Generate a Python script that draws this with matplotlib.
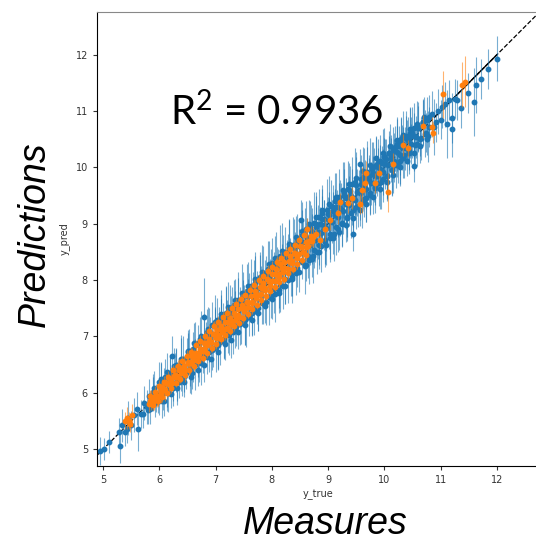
import matplotlib
matplotlib.use("Agg")
import matplotlib.pyplot as plt

plt.rcParams['mathtext.default'] = 'regular'
plt.rcParams['font.family'] = ['Lato', 'DejaVu Sans']

xticks = [5, 6, 7, 8, 9, 10, 11, 12]
yticks = [5, 6, 7, 8, 9, 10, 11, 12]

blue_true = [
    4.95, 5.02, 5.10, 5.30, 5.28, 5.33, 5.38, 5.45, 5.50, 5.43,
    5.62, 5.55, 5.60, 5.67, 5.72, 5.70, 5.78, 5.82, 5.80, 5.88,
    5.92, 5.90, 5.98, 6.02, 6.00, 6.07, 6.10, 6.13, 6.18, 6.15,
    6.22, 6.25, 6.28, 6.32, 6.30, 6.38, 6.42, 6.40, 6.47, 6.50,
    6.55, 6.52, 6.60, 6.63, 6.58, 6.68, 6.72, 6.70, 6.80, 6.78,
    6.85, 6.88, 6.83, 6.93, 6.96, 6.90, 7.00, 7.03, 6.98, 7.08,
    7.10, 7.06, 7.15, 7.18, 7.13, 7.22, 7.25, 7.20, 7.30, 7.32,
    7.28, 7.37, 7.40, 7.35, 7.45, 7.48, 7.43, 7.53, 7.55, 7.50,
    7.60, 7.63, 7.58, 7.68, 7.70, 7.66, 7.75, 7.78, 7.73, 7.83,
    7.85, 7.80, 7.90, 7.93, 7.88, 7.98, 8.00, 7.96, 8.05, 8.08,
    8.03, 8.13, 8.15, 8.11, 8.20, 8.23, 8.18, 8.28, 8.30, 8.26,
    8.35, 8.38, 8.33, 8.43, 8.45, 8.41, 8.51, 8.53, 8.48, 8.58,
    8.60, 8.56, 8.66, 8.68, 8.63, 8.73, 8.75, 8.71, 8.80, 8.83,
    8.78, 8.88, 8.90, 8.86, 8.95, 8.98, 8.93, 9.03, 9.05, 9.01,
    9.10, 9.13, 9.08, 9.18, 9.20, 9.16, 9.25, 9.28, 9.23, 9.33,
    9.35, 9.31, 9.40, 9.43, 9.38, 9.45, 9.48, 9.50, 9.56, 9.55,
    9.60, 9.63, 9.58, 9.68, 9.70, 9.66, 9.75, 9.78, 9.73, 9.83,
    9.85, 9.80, 9.90, 9.93, 9.88, 9.98, 10.00, 9.96, 10.05, 10.08,
    10.03, 10.13, 10.15, 10.11, 10.20, 10.23, 10.18, 10.28, 10.30, 10.26,
    10.35, 10.38, 10.33, 10.43, 10.45, 10.41, 10.52, 10.53, 10.48, 10.58,
    10.60, 10.65, 10.68, 10.72, 10.75, 10.80, 10.78, 10.85, 10.88, 10.92,
    10.95, 11.00, 11.02, 11.08, 11.12, 11.15, 11.20, 11.20, 11.25, 11.30,
    11.36, 11.48, 11.60, 11.63, 11.72, 11.85, 12.00,
]
blue_pred = [
    4.97, 5.00, 5.13, 5.05, 5.30, 5.42, 5.30, 5.55, 5.42, 5.35,
    5.35, 5.60, 5.72, 5.62, 5.82, 5.62, 5.75, 5.95, 5.70, 5.98,
    5.82, 6.08, 5.92, 6.18, 5.85, 6.00, 6.28, 6.05, 6.35, 6.00,
    6.65, 6.15, 6.42, 6.20, 6.50, 6.28, 6.60, 6.25, 6.35, 6.72,
    6.42, 6.75, 6.50, 6.85, 6.35, 6.58, 6.95, 6.55, 7.34, 6.65,
    7.08, 6.72, 6.95, 7.20, 6.78, 7.05, 6.82, 7.30, 7.18, 6.90,
    7.35, 7.22, 6.95, 7.42, 7.30, 7.05, 7.50, 7.35, 7.08, 7.55,
    7.42, 7.18, 7.65, 7.50, 7.25, 7.72, 7.58, 7.30, 7.80, 7.60,
    7.35, 7.90, 7.72, 7.45, 7.95, 7.80, 7.50, 8.05, 7.85, 7.60,
    8.12, 7.95, 7.62, 8.20, 8.00, 7.72, 8.30, 8.08, 7.75, 8.38,
    8.15, 7.82, 8.42, 8.25, 7.90, 8.50, 8.30, 8.00, 8.58, 8.40,
    8.05, 8.62, 8.45, 8.12, 8.70, 8.50, 9.07, 8.80, 8.60, 8.25,
    8.90, 8.68, 8.35, 8.95, 8.75, 8.42, 9.02, 8.85, 8.50, 9.12,
    8.95, 8.60, 9.20, 9.00, 8.68, 9.25, 9.08, 8.75, 9.32, 9.15,
    8.82, 9.40, 9.22, 8.90, 9.48, 9.30, 9.00, 9.55, 9.38, 9.10,
    9.62, 9.45, 9.20, 9.70, 9.50, 8.82, 9.75, 9.30, 10.07, 9.60,
    9.38, 9.85, 9.70, 9.45, 9.92, 9.78, 9.55, 9.98, 9.85, 9.65,
    10.05, 9.90, 9.72, 10.12, 10.00, 9.80, 10.20, 10.08, 9.85, 10.25,
    10.15, 9.95, 10.32, 10.22, 10.05, 10.42, 10.30, 10.12, 10.50, 10.38,
    10.22, 10.55, 10.42, 10.30, 10.62, 10.50, 10.02, 10.70, 10.55, 10.42,
    10.72, 10.52, 10.80, 10.60, 10.85, 10.72, 10.55, 10.95, 10.72, 10.80,
    11.00, 10.85, 11.08, 11.12, 10.77, 11.20, 10.88, 10.68, 11.22, 11.20,
    11.05, 11.32, 11.16, 11.46, 11.57, 11.75, 11.93,
]
blue_err = [
    0.25, 0.20, 0.20, 0.30, 0.25, 0.30, 0.25, 0.30, 0.25, 0.25,
    0.38, 0.30, 0.30, 0.25, 0.30, 0.25, 0.30, 0.30, 0.25, 0.30,
    0.25, 0.30, 0.28, 0.35, 0.25, 0.30, 0.32, 0.30, 0.28, 0.35,
    0.35, 0.30, 0.28, 0.35, 0.30, 0.25, 0.40, 0.30, 0.28, 0.35,
    0.30, 0.38, 0.30, 0.40, 0.28, 0.30, 0.40, 0.35, 0.70, 0.30,
    0.40, 0.35, 0.30, 0.42, 0.32, 0.30, 0.45, 0.38, 0.30, 0.40,
    0.38, 0.30, 0.35, 0.45, 0.30, 0.35, 0.42, 0.30, 0.40, 0.45,
    0.30, 0.35, 0.50, 0.30, 0.38, 0.42, 0.30, 0.45, 0.48, 0.32,
    0.35, 0.48, 0.30, 0.42, 0.55, 0.35, 0.40, 0.45, 0.32, 0.38,
    0.48, 0.30, 0.42, 0.50, 0.35, 0.40, 0.45, 0.30, 0.50, 0.48,
    0.35, 0.40, 0.55, 0.30, 0.42, 0.45, 0.35, 0.40, 0.50, 0.32,
    0.45, 0.50, 0.30, 0.38, 0.48, 0.35, 0.35, 0.45, 0.30, 0.50,
    0.50, 0.35, 0.42, 0.45, 0.30, 0.48, 0.55, 0.32, 0.40, 0.50,
    0.35, 0.45, 0.48, 0.30, 0.40, 0.55, 0.35, 0.42, 0.45, 0.30,
    0.48, 0.50, 0.35, 0.40, 0.50, 0.30, 0.42, 0.55, 0.35, 0.40,
    0.50, 0.30, 0.45, 0.48, 0.35, 0.30, 0.60, 0.40, 0.25, 0.35,
    0.45, 0.50, 0.30, 0.42, 0.55, 0.35, 0.40, 0.48, 0.32, 0.45,
    0.50, 0.30, 0.40, 0.45, 0.35, 0.42, 0.50, 0.30, 0.45, 0.40,
    0.35, 0.45, 0.40, 0.30, 0.42, 0.48, 0.32, 0.45, 0.40, 0.35,
    0.40, 0.45, 0.30, 0.42, 0.45, 0.35, 0.28, 0.45, 0.35, 0.40,
    0.45, 0.38, 0.40, 0.42, 0.40, 0.35, 0.45, 0.40, 0.50, 0.35,
    0.40, 0.35, 0.38, 0.40, 0.60, 0.35, 0.45, 0.50, 0.35, 0.35,
    0.35, 0.35, 0.60, 0.50, 0.35, 0.35, 0.40,
]

# second pass along the band, the cloud is much denser than one pass
edge_true = [
    5.84, 5.89, 5.94, 5.99, 6.04, 6.09, 6.14, 6.19, 6.24, 6.29,
    6.34, 6.39, 6.44, 6.49, 6.54, 6.59, 6.64, 6.69, 6.74, 6.79,
    6.84, 6.89, 6.94, 6.99, 7.04, 7.09, 7.14, 7.19, 7.24, 7.29,
    7.34, 7.39, 7.44, 7.49, 7.54, 7.59, 7.64, 7.69, 7.74, 7.79,
    7.84, 7.89, 7.94, 7.99, 8.04, 8.09, 8.14, 8.19, 8.24, 8.29,
    8.34, 8.39, 8.44, 8.49, 8.54, 8.59, 8.64, 8.69, 8.74, 8.79,
    8.84, 8.89, 8.94, 8.99, 9.04, 9.09, 9.14, 9.19, 9.24, 9.29,
    9.34, 9.39, 9.44, 9.49, 9.54, 9.59, 9.64, 9.69, 9.74, 9.79,
    9.84, 9.89, 9.94, 9.99, 10.04, 10.09, 10.14, 10.19, 10.24, 10.29,
    10.34, 10.39, 10.44, 10.49, 10.54, 10.59, 10.64, 10.69, 10.74, 10.79,
]
edge_pred = [
    5.72, 6.02, 5.90, 6.20, 5.86, 6.16, 6.02, 6.34, 6.08, 6.40,
    6.20, 6.55, 6.30, 6.62, 6.40, 6.78, 6.50, 6.88, 6.52, 6.98,
    6.64, 7.02, 6.76, 7.20, 6.85, 7.28, 6.92, 7.40, 7.02, 7.46,
    7.12, 7.58, 7.22, 7.70, 7.32, 7.78, 7.42, 7.88, 7.52, 8.00,
    7.60, 8.10, 7.70, 8.20, 7.84, 8.28, 7.92, 8.42, 8.02, 8.50,
    8.12, 8.58, 8.22, 8.68, 8.32, 8.80, 8.42, 8.88, 8.54, 9.00,
    8.62, 9.08, 8.72, 9.18, 8.82, 9.30, 8.94, 9.40, 9.02, 9.50,
    9.12, 9.58, 9.24, 9.68, 9.32, 9.80, 9.44, 9.88, 9.52, 10.00,
    9.64, 10.08, 9.74, 10.18, 9.84, 10.26, 9.96, 10.36, 10.04, 10.46,
    10.16, 10.52, 10.26, 10.62, 10.40, 10.70, 10.50, 10.80, 10.62, 10.90,
]
edge_err = [
    0.28, 0.32, 0.25, 0.35, 0.30, 0.28, 0.35, 0.30, 0.32, 0.38,
    0.30, 0.42, 0.28, 0.35, 0.40, 0.30, 0.45, 0.32, 0.38, 0.42,
    0.30, 0.48, 0.35, 0.32, 0.45, 0.38, 0.30, 0.50, 0.35, 0.42,
    0.32, 0.45, 0.38, 0.30, 0.50, 0.35, 0.42, 0.48, 0.30, 0.45,
    0.38, 0.32, 0.50, 0.35, 0.42, 0.30, 0.48, 0.38, 0.45, 0.32,
    0.40, 0.50, 0.35, 0.42, 0.30, 0.48, 0.38, 0.45, 0.32, 0.50,
    0.35, 0.42, 0.48, 0.30, 0.45, 0.38, 0.50, 0.32, 0.42, 0.48,
    0.35, 0.45, 0.30, 0.50, 0.38, 0.42, 0.32, 0.48, 0.35, 0.45,
    0.30, 0.42, 0.48, 0.35, 0.40, 0.30, 0.45, 0.38, 0.32, 0.42,
    0.35, 0.40, 0.30, 0.45, 0.35, 0.40, 0.30, 0.42, 0.35, 0.38,
]

# outer rim of the blue cloud
outer_true = [
    6.02, 6.08, 6.14, 6.20, 6.26, 6.32, 6.38, 6.44, 6.50, 6.56,
    6.62, 6.68, 6.74, 6.80, 6.86, 6.92, 6.98, 7.04, 7.10, 7.16,
    7.22, 7.28, 7.34, 7.40, 7.46, 7.52, 7.58, 7.64, 7.70, 7.76,
    7.82, 7.88, 7.94, 8.00, 8.06, 8.12, 8.18, 8.24, 8.30, 8.36,
    8.42, 8.48, 8.54, 8.60, 8.66, 8.72, 8.78, 8.84, 8.90, 8.96,
    9.02, 9.08, 9.14, 9.20, 9.26, 9.32, 9.38, 9.44, 9.50, 9.56,
    9.62, 9.68, 9.74, 9.80, 9.86, 9.92, 9.98, 10.04, 10.10, 10.16,
    10.22, 10.28, 10.34, 10.40, 10.46, 10.52, 10.58, 10.64, 10.70, 10.76,
]
outer_pred = [
    6.24, 5.86, 6.36, 5.98, 6.48, 6.08, 6.60, 6.20, 6.74, 6.28,
    6.88, 6.40, 7.00, 6.50, 7.14, 6.60, 7.26, 6.72, 7.40, 6.86,
    7.52, 6.94, 7.64, 7.08, 7.78, 7.20, 7.90, 7.30, 8.02, 7.42,
    8.14, 7.54, 8.28, 7.66, 8.40, 7.78, 8.52, 7.90, 8.64, 8.02,
    8.76, 8.14, 8.88, 8.26, 9.00, 8.38, 9.12, 8.50, 9.24, 8.62,
    9.36, 8.74, 9.48, 8.86, 9.60, 8.98, 9.70, 9.10, 9.82, 9.24,
    9.94, 9.36, 10.04, 9.48, 10.16, 9.62, 10.26, 9.74, 10.38, 9.86,
    10.48, 10.00, 10.58, 10.12, 10.68, 10.26, 10.78, 10.38, 10.90, 10.50,
]
outer_err = [
    0.30, 0.28, 0.35, 0.25, 0.32, 0.30, 0.42, 0.28, 0.38, 0.30,
    0.35, 0.28, 0.45, 0.30, 0.38, 0.32, 0.48, 0.30, 0.42, 0.28,
    0.45, 0.32, 0.38, 0.30, 0.50, 0.35, 0.42, 0.28, 0.40, 0.32,
    0.48, 0.30, 0.42, 0.35, 0.38, 0.28, 0.50, 0.32, 0.42, 0.30,
    0.38, 0.35, 0.50, 0.28, 0.42, 0.32, 0.45, 0.30, 0.38, 0.35,
    0.48, 0.28, 0.42, 0.32, 0.50, 0.30, 0.38, 0.35, 0.45, 0.28,
    0.42, 0.32, 0.48, 0.30, 0.38, 0.35, 0.42, 0.28, 0.40, 0.32,
    0.38, 0.30, 0.42, 0.28, 0.38, 0.32, 0.40, 0.30, 0.35, 0.28,
]

# middle of the band above 8.6, the orange thins out there
mid_true = [
    8.62, 8.67, 8.72, 8.77, 8.82, 8.87, 8.92, 8.97, 9.02, 9.07,
    9.12, 9.17, 9.22, 9.27, 9.32, 9.37, 9.42, 9.47, 9.52, 9.57,
    9.62, 9.67, 9.72, 9.77, 9.82, 9.87, 9.92, 9.97, 10.02, 10.07,
    10.12, 10.17, 10.22, 10.27, 10.32, 10.37, 10.42, 10.47, 10.52, 10.57,
]
mid_pred = [
    8.66, 8.62, 8.78, 8.72, 8.86, 8.84, 8.98, 8.92, 9.06, 9.04,
    9.16, 9.12, 9.28, 9.22, 9.36, 9.34, 9.48, 9.42, 9.56, 9.54,
    9.66, 9.62, 9.78, 9.72, 9.86, 9.84, 9.98, 9.92, 10.06, 10.04,
    10.16, 10.12, 10.28, 10.22, 10.36, 10.34, 10.48, 10.42, 10.56, 10.54,
]
mid_err = [
    0.45, 0.35, 0.50, 0.40, 0.48, 0.35, 0.45, 0.40, 0.50, 0.38,
    0.45, 0.35, 0.50, 0.40, 0.45, 0.38, 0.50, 0.35, 0.42, 0.48,
    0.40, 0.35, 0.45, 0.38, 0.48, 0.35, 0.42, 0.40, 0.45, 0.35,
    0.42, 0.38, 0.45, 0.35, 0.40, 0.38, 0.42, 0.35, 0.40, 0.38,
]

orange_true = [
    5.38, 5.43, 5.48, 5.52, 5.46, 5.82, 5.85, 5.90, 5.95, 5.98,
    6.02, 6.05, 6.10, 6.12, 6.17, 6.20, 6.22, 6.27, 6.30, 6.35,
    6.38, 6.43, 6.46, 6.50, 6.55, 6.58, 6.62, 6.65, 6.70, 6.72,
    6.78, 6.80, 6.85, 6.88, 6.92, 6.95, 7.00, 7.02, 7.05, 7.10,
    7.12, 7.17, 7.20, 7.25, 7.28, 7.32, 7.35, 7.40, 7.42, 7.47,
    7.50, 7.55, 7.58, 7.62, 7.65, 7.70, 7.72, 7.78, 7.80, 7.85,
    7.88, 7.92, 7.97, 8.00, 8.05, 8.08, 8.12, 8.15, 8.20, 8.22,
    8.28, 8.32, 8.35, 8.40, 8.45, 8.50, 8.55, 8.60, 8.65, 8.70,
    8.63, 8.73, 8.85, 8.95, 9.03, 9.17, 9.21, 9.35, 9.42, 9.56,
    9.60, 9.65, 9.68, 9.83, 9.90, 10.06, 10.15, 10.33, 10.42, 10.68,
    10.84, 10.87, 11.05, 11.43, 11.38,
    5.84, 5.88, 5.92, 5.97, 6.00, 6.04, 6.08, 6.13, 6.16, 6.20,
    6.25, 6.29, 6.33, 6.37, 6.41, 6.45, 6.49, 6.53, 6.57, 6.61,
    6.65, 6.69, 6.73, 6.77, 6.81, 6.85, 6.89, 6.93, 6.97, 7.01,
    7.05, 7.09, 7.13, 7.17, 7.21, 7.25, 7.29, 7.33, 7.37, 7.41,
    7.45, 7.49, 7.53, 7.57, 7.61, 7.65, 7.69, 7.73, 7.77, 7.81,
    7.85, 7.89, 7.93, 7.97, 8.01, 8.05, 8.09, 8.13, 8.17, 8.21,
    8.25, 8.29, 8.33, 8.37, 8.41, 8.45, 8.49, 8.53, 8.57, 8.61,
    5.84, 5.90, 5.96, 6.02, 6.08, 6.14, 6.20, 6.26, 6.32, 6.38,
    6.44, 6.50, 6.56, 6.62, 6.68, 6.74, 6.80, 6.86, 6.92, 6.98,
    7.04, 7.10, 7.16, 7.22, 7.28, 7.34, 7.40, 7.46, 7.52, 7.58,
    7.64, 7.70, 7.76, 7.82, 7.88, 7.94, 8.00, 8.06, 8.12, 8.18,
    8.24, 8.30, 8.36, 8.42, 8.48, 8.54, 8.60, 8.66, 8.72, 8.78,
]
orange_pred = [
    5.50, 5.55, 5.45, 5.60, 5.50, 5.80, 5.87, 5.85, 5.95, 5.92,
    6.00, 6.10, 6.05, 6.18, 6.15, 6.25, 6.18, 6.32, 6.28, 6.40,
    6.35, 6.48, 6.40, 6.55, 6.52, 6.65, 6.58, 6.70, 6.68, 6.78,
    6.75, 6.88, 6.85, 6.95, 6.90, 7.05, 6.98, 7.12, 7.00, 7.18,
    7.08, 7.25, 7.15, 7.32, 7.22, 7.42, 7.30, 7.48, 7.35, 7.55,
    7.45, 7.62, 7.52, 7.72, 7.60, 7.80, 7.68, 7.88, 7.75, 7.95,
    7.82, 8.02, 7.90, 8.10, 7.98, 8.20, 8.05, 8.28, 8.15, 8.32,
    8.20, 8.42, 8.30, 8.48, 8.40, 8.60, 8.50, 8.68, 8.60, 8.78,
    8.90, 8.77, 8.72, 8.90, 9.07, 9.20, 9.39, 9.37, 9.46, 9.35,
    9.60, 9.72, 9.91, 9.72, 9.91, 9.56, 10.07, 10.40, 10.34, 10.73,
    10.72, 10.62, 11.30, 11.52, 11.47,
    5.95, 5.78, 6.02, 5.85, 6.12, 5.92, 6.20, 6.00, 6.28, 6.08,
    6.40, 6.18, 6.48, 6.25, 6.56, 6.32, 6.66, 6.40, 6.72, 6.48,
    6.84, 6.56, 6.92, 6.62, 7.00, 6.70, 7.10, 6.80, 7.18, 6.86,
    7.26, 6.95, 7.34, 7.02, 7.42, 7.10, 7.50, 7.18, 7.58, 7.24,
    7.66, 7.32, 7.74, 7.40, 7.82, 7.48, 7.92, 7.56, 8.00, 7.64,
    8.08, 7.72, 8.16, 7.80, 8.24, 7.88, 8.32, 7.96, 8.40, 8.02,
    8.48, 8.12, 8.56, 8.20, 8.62, 8.28, 8.72, 8.36, 8.80, 8.44,
    5.86, 5.92, 5.93, 6.05, 6.06, 6.17, 6.18, 6.30, 6.30, 6.42,
    6.42, 6.53, 6.55, 6.66, 6.66, 6.78, 6.78, 6.90, 6.90, 7.02,
    7.02, 7.14, 7.14, 7.26, 7.26, 7.38, 7.38, 7.50, 7.50, 7.62,
    7.62, 7.74, 7.74, 7.86, 7.86, 7.98, 7.98, 8.10, 8.10, 8.22,
    8.22, 8.34, 8.34, 8.46, 8.46, 8.58, 8.58, 8.70, 8.70, 8.82,
]
orange_err = [
    0.15, 0.20, 0.15, 0.20, 0.15, 0.15, 0.18, 0.15, 0.20, 0.15,
    0.18, 0.15, 0.20, 0.15, 0.18, 0.20, 0.15, 0.18, 0.15, 0.20,
    0.15, 0.18, 0.20, 0.15, 0.18, 0.15, 0.20, 0.18, 0.15, 0.20,
    0.18, 0.15, 0.20, 0.15, 0.18, 0.20, 0.15, 0.18, 0.15, 0.20,
    0.15, 0.18, 0.20, 0.15, 0.18, 0.20, 0.15, 0.18, 0.15, 0.20,
    0.18, 0.15, 0.20, 0.18, 0.15, 0.20, 0.15, 0.18, 0.20, 0.15,
    0.18, 0.20, 0.15, 0.18, 0.15, 0.20, 0.18, 0.15, 0.20, 0.15,
    0.18, 0.20, 0.15, 0.18, 0.20, 0.15, 0.18, 0.20, 0.15, 0.18,
    0.20, 0.18, 0.15, 0.20, 0.18, 0.20, 0.15, 0.18, 0.20, 0.18,
    0.40, 0.18, 0.20, 0.18, 0.15, 0.35, 0.18, 0.20, 0.15, 0.20,
    0.18, 0.18, 0.42, 0.45, 0.40,
    0.10, 0.08, 0.10, 0.08, 0.10, 0.08, 0.10, 0.08, 0.10, 0.08,
    0.10, 0.08, 0.10, 0.08, 0.10, 0.08, 0.10, 0.08, 0.10, 0.08,
    0.10, 0.08, 0.10, 0.08, 0.10, 0.08, 0.10, 0.08, 0.10, 0.08,
    0.10, 0.08, 0.10, 0.08, 0.10, 0.08, 0.10, 0.08, 0.10, 0.08,
    0.10, 0.08, 0.10, 0.08, 0.10, 0.08, 0.10, 0.08, 0.10, 0.08,
    0.10, 0.08, 0.10, 0.08, 0.10, 0.08, 0.10, 0.08, 0.10, 0.08,
    0.10, 0.08, 0.10, 0.08, 0.10, 0.08, 0.10, 0.08, 0.10, 0.08,
    0.10, 0.08, 0.10, 0.08, 0.10, 0.08, 0.10, 0.08, 0.10, 0.08,
    0.10, 0.08, 0.10, 0.08, 0.10, 0.08, 0.10, 0.08, 0.10, 0.08,
    0.10, 0.08, 0.10, 0.08, 0.10, 0.08, 0.10, 0.08, 0.10, 0.08,
    0.10, 0.08, 0.10, 0.08, 0.10, 0.08, 0.10, 0.08, 0.10, 0.08,
    0.10, 0.08, 0.10, 0.08, 0.10, 0.08, 0.10, 0.08, 0.10, 0.08,
]

fig = plt.figure(figsize=(5.36, 5.37), dpi=100)
ax = fig.add_axes([97 / 536, 1 - 466 / 537, (539 - 97) / 536, (466 - 12) / 537])

ax.plot([4.89, 12.76], [4.89, 12.76], '--', color='k', lw=0.9, zorder=1)
ax.plot([10.9, 12.0], [10.9, 12.0], '-', color='k', lw=1.0, zorder=1)

for xs, ys, es in [(blue_true, blue_pred, blue_err),
                   (edge_true, edge_pred, edge_err),
                   (outer_true, outer_pred, outer_err),
                   (mid_true, mid_pred, mid_err)]:
    ax.errorbar(xs, ys, yerr=es, fmt='o', ms=3.2, color='#1f77b4',
                ecolor=(0.12, 0.47, 0.71, 0.6), elinewidth=0.8, zorder=2)
ax.errorbar(orange_true, orange_pred, yerr=orange_err, fmt='o', ms=3.2, color='#ff7f0e',
            ecolor=(1.0, 0.5, 0.05, 0.6), elinewidth=0.8, zorder=3)

ax.set_xlim(4.89, 12.75)
ax.set_ylim(4.7, 12.76)
ax.set_xticks(xticks)
ax.set_yticks(yticks)
ax.tick_params(labelsize=7, length=3, width=0.8, colors='#333333')
for lab in ax.get_xticklabels() + ax.get_yticklabels():
    lab.set_family('DejaVu Sans')
ax.set_xlabel('y_true', fontsize=7, family='DejaVu Sans', color='#333333', labelpad=3)
ax.set_ylabel('y_pred', fontsize=7, family='DejaVu Sans', color='#333333', labelpad=4)
ax.spines['top'].set_color('#888888')
ax.spines['right'].set_visible(False)

fig.text(170 / 536, 1 - 125 / 537, 'R$^{2}$ = 0.9936', fontsize=29,
         color='k', ha='left', va='baseline')
fig.text(45 / 536, 1 - 327 / 537, 'Predictions', fontsize=27, family='Liberation Sans', style='italic',
         color='k', rotation=90, ha='left', va='baseline', rotation_mode='anchor')
fig.text(243 / 536, 1 - 534 / 537, 'Measures', fontsize=27, family='Liberation Sans', style='italic',
         color='k', ha='left', va='baseline')

fig.savefig('out.png', dpi=100)
